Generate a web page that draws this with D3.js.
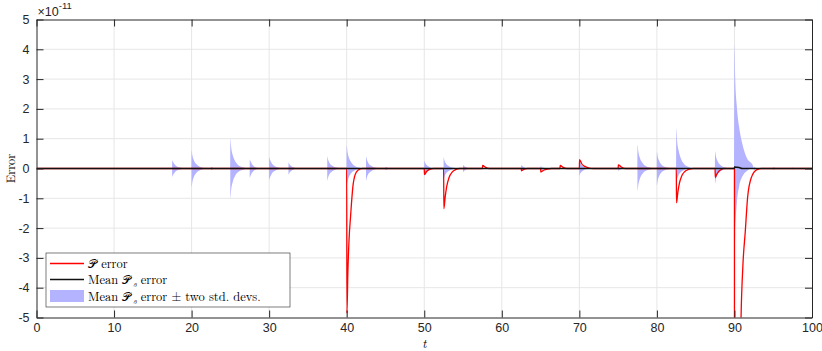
<!DOCTYPE html>
<html>
<head>
<meta charset="utf-8">
<script src="https://cdn.jsdelivr.net/npm/d3@7"></script>
<style>
  body { margin: 0; background: #fff; }
  svg { display: block; }
  .tick text { font-family: "Liberation Sans", Arial, sans-serif; font-size: 12.5px; fill: #262626; }
  .serif { font-family: "Latin Modern Roman", "DejaVu Serif", "Liberation Serif", serif; fill: #000; }
</style>
</head>
<body>
<div id="chart"></div>
<script>
  // values are in units of 1e-11
  let xTicks = [0, 10, 20, 30, 40, 50, 60, 70, 80, 90, 100]
  let yTicks = [-5, -4, -3, -2, -1, 0, 1, 2, 3, 4, 5]

  // P error (red)
  let pErrT = [0,
    40, 40.03, 40.15, 40.3, 40.5, 40.8, 41.1, 41.5, 42,
    50, 50.03, 50.3, 50.7, 51.2,
    52.5, 52.53, 52.7, 52.9, 53.2, 53.6, 54.1, 54.6,
    57.5, 57.53, 57.9, 58.4,
    62.5, 62.53, 62.9, 63.3,
    65, 65.03, 65.4, 65.9, 66.4,
    67.5, 67.53, 67.9, 68.4,
    70, 70.03, 70.3, 70.7, 71.2, 71.8,
    75, 75.03, 75.4, 75.9,
    82.5, 82.53, 82.7, 82.9, 83.2, 83.6, 84.1, 84.7,
    87.5, 87.53, 87.7, 87.9, 88.2, 88.6,
    90, 90.02, 90.5, 90.85, 91.1, 91.4, 91.7, 92.2, 92.9, 93.5,
    100]
  let pErrV = [0,
    0, -4.85, -3.5, -2.4, -1.6, -0.6, -0.2, -0.05, 0,
    0, -0.2, -0.1, -0.03, 0,
    0, -1.35, -0.95, -0.6, -0.3, -0.12, -0.03, 0,
    0, 0.1, 0.04, 0,
    0, -0.07, -0.02, 0,
    0, -0.12, -0.06, -0.02, 0,
    0, 0.1, 0.04, 0,
    0, 0.3, 0.16, 0.07, 0.02, 0,
    0, 0.12, 0.05, 0,
    0, -1.15, -0.8, -0.5, -0.25, -0.1, -0.03, 0,
    0, -0.3, -0.2, -0.12, -0.05, 0,
    0, -30, -12, -5, -3.2, -2.1, -0.96, -0.29, -0.04, 0,
    0]

  // mean Ps error (black)
  let meanT = [0, 89.98, 90.02, 90.6, 91, 100]
  let meanV = [0, 0, 0.05, 0.03, 0, 0]

  // mean Ps error +/- two std devs (blue band), one row per burst
  let bandOnsets = [17.5, 20, 22.5, 25, 27.5, 30, 32.5, 37.5, 40, 42.5, 45, 50, 52.5, 55,
    62.5, 65, 70, 75, 77.5, 80, 82.5, 87.5, 90, 92.5, 95, 97.5]
  let bandDt = [0, 0.1, 0.3, 0.6, 1.0, 1.6, 2.4]
  let bandUpper = [
    [0.28, 0.22, 0.14, 0.07, 0.03, 0.01, 0],
    [0.6, 0.44, 0.27, 0.15, 0.07, 0.02, 0],
    [0.05, 0.04, 0.02, 0.01, 0, 0, 0],
    [1.0, 0.72, 0.45, 0.25, 0.12, 0.04, 0],
    [0.3, 0.24, 0.14, 0.06, 0.02, 0, 0],
    [0.38, 0.3, 0.19, 0.1, 0.04, 0.01, 0],
    [0.2, 0.15, 0.09, 0.04, 0.01, 0, 0],
    [0.4, 0.3, 0.18, 0.1, 0.04, 0.01, 0],
    [0.77, 0.56, 0.35, 0.2, 0.09, 0.03, 0],
    [0.4, 0.3, 0.18, 0.1, 0.04, 0.01, 0],
    [0.05, 0.04, 0.02, 0.01, 0, 0, 0],
    [0.27, 0.2, 0.12, 0.06, 0.02, 0, 0],
    [0.38, 0.28, 0.17, 0.09, 0.04, 0.01, 0],
    [0.12, 0.09, 0.05, 0.02, 0.01, 0, 0],
    [0.12, 0.09, 0.05, 0.02, 0.01, 0, 0],
    [0.08, 0.06, 0.03, 0.01, 0, 0, 0],
    [0.28, 0.2, 0.12, 0.06, 0.02, 0, 0],
    [0.08, 0.06, 0.03, 0.01, 0, 0, 0],
    [0.8, 0.58, 0.36, 0.2, 0.09, 0.03, 0],
    [0.55, 0.4, 0.25, 0.13, 0.06, 0.02, 0],
    [1.35, 0.95, 0.6, 0.33, 0.15, 0.05, 0],
    [0.58, 0.42, 0.26, 0.14, 0.06, 0.02, 0],
    [4.15, 3.0, 2.1, 1.4, 0.85, 0.35, 0.08],
    [0.05, 0.04, 0.02, 0.01, 0, 0, 0],
    [0.04, 0.03, 0.02, 0.01, 0, 0, 0],
    [0.03, 0.02, 0.01, 0, 0, 0, 0]
  ]
  let bandLower = [
    [-0.28, -0.22, -0.14, -0.07, -0.03, -0.01, 0],
    [-0.62, -0.45, -0.28, -0.15, -0.07, -0.02, 0],
    [-0.05, -0.04, -0.02, -0.01, 0, 0, 0],
    [-1.0, -0.72, -0.45, -0.25, -0.12, -0.04, 0],
    [-0.3, -0.24, -0.14, -0.06, -0.02, 0, 0],
    [-0.38, -0.3, -0.19, -0.1, -0.04, -0.01, 0],
    [-0.2, -0.15, -0.09, -0.04, -0.01, 0, 0],
    [-0.4, -0.3, -0.18, -0.1, -0.04, -0.01, 0],
    [-0.6, -0.45, -0.28, -0.15, -0.07, -0.02, 0],
    [-0.4, -0.3, -0.18, -0.1, -0.04, -0.01, 0],
    [-0.05, -0.04, -0.02, -0.01, 0, 0, 0],
    [-0.27, -0.2, -0.12, -0.06, -0.02, 0, 0],
    [-0.38, -0.28, -0.17, -0.09, -0.04, -0.01, 0],
    [-0.12, -0.09, -0.05, -0.02, -0.01, 0, 0],
    [-0.12, -0.09, -0.05, -0.02, -0.01, 0, 0],
    [-0.08, -0.06, -0.03, -0.01, 0, 0, 0],
    [-0.25, -0.18, -0.11, -0.05, -0.02, 0, 0],
    [-0.08, -0.06, -0.03, -0.01, 0, 0, 0],
    [-0.75, -0.55, -0.34, -0.19, -0.08, -0.03, 0],
    [-0.55, -0.4, -0.25, -0.13, -0.06, -0.02, 0],
    [-0.45, -0.35, -0.22, -0.12, -0.05, -0.01, 0],
    [-0.5, -0.36, -0.22, -0.12, -0.05, -0.01, 0],
    [-3.4, -2.2, -1.2, -0.6, -0.28, -0.08, 0],
    [-0.05, -0.04, -0.02, -0.01, 0, 0, 0],
    [-0.04, -0.03, -0.02, -0.01, 0, 0, 0],
    [-0.03, -0.02, -0.01, 0, 0, 0, 0]
  ]

  let width = 822, height = 351
  let margin = {left: 36.5, right: 10, top: 19.5, bottom: 33.5}

  let x = d3.scaleLinear().domain([0, 100]).range([margin.left, width - margin.right])
  let y = d3.scaleLinear().domain([-5, 5]).range([height - margin.bottom, margin.top])

  let svg = d3.select("#chart").append("svg")
    .attr("width", width)
    .attr("height", height)

  svg.append("defs").append("clipPath").attr("id", "plotclip")
    .append("rect")
    .attr("x", x(0)).attr("y", y(5))
    .attr("width", x(100) - x(0)).attr("height", y(-5) - y(5))

  // grid
  let grid = svg.append("g").attr("class", "grid")
  grid.selectAll(".gx").data(xTicks.slice(1, -1)).enter().append("line")
    .attr("x1", function(d){ return x(d) }).attr("x2", function(d){ return x(d) })
    .attr("y1", y(5)).attr("y2", y(-5))
    .attr("stroke", "#e6e6e6").attr("stroke-width", 1)
  grid.selectAll(".gy").data(yTicks.slice(1, -1)).enter().append("line")
    .attr("y1", function(d){ return y(d) }).attr("y2", function(d){ return y(d) })
    .attr("x1", x(0)).attr("x2", x(100))
    .attr("stroke", "#e6e6e6").attr("stroke-width", 1)

  // build band rows with zero baseline between bursts
  let band = []
  band.push({t: 0, hi: 0, lo: 0})
  bandOnsets.forEach(function(t0, i){
    band.push({t: t0 - 0.01, hi: 0, lo: 0})
    bandDt.forEach(function(dt, j){
      band.push({t: t0 + dt, hi: bandUpper[i][j], lo: bandLower[i][j]})
    })
  })
  band.push({t: 100, hi: 0, lo: 0})
  band.sort(function(a, b){ return a.t - b.t })

  let plot = svg.append("g").attr("clip-path", "url(#plotclip)")

  let area = d3.area()
    .x(function(d){ return x(d.t) })
    .y0(function(d){ return y(d.lo) })
    .y1(function(d){ return y(d.hi) })
    .curve(d3.curveMonotoneX)

  plot.append("path")
    .datum(band)
    .attr("d", area)
    .attr("fill", "#b3b3ff")
    .attr("stroke", "none")

  let line = d3.line()
    .x(function(d){ return x(d[0]) })
    .y(function(d){ return y(d[1]) })
    .curve(d3.curveMonotoneX)

  plot.append("path")
    .datum(pErrT.map(function(t, i){ return [t, pErrV[i]] }))
    .attr("d", line)
    .attr("fill", "none")
    .attr("stroke", "#ff0000")
    .attr("stroke-width", 1.3)

  plot.append("path")
    .datum(meanT.map(function(t, i){ return [t, meanV[i]] }))
    .attr("d", line)
    .attr("fill", "none")
    .attr("stroke", "#111")
    .attr("stroke-width", 1.5)

  // axes, MATLAB style box with inward ticks on all sides
  let tickLen = 7
  let axisColor = "#262626"

  let xAxis = svg.append("g")
    .attr("transform", "translate(0," + y(-5) + ")")
    .call(d3.axisBottom(x).tickValues(xTicks).tickSizeInner(-tickLen).tickSizeOuter(0).tickPadding(6))
  let xAxisTop = svg.append("g")
    .attr("transform", "translate(0," + y(5) + ")")
    .call(d3.axisTop(x).tickValues(xTicks).tickSizeInner(-tickLen).tickSizeOuter(0).tickFormat(""))
  let yAxis = svg.append("g")
    .attr("transform", "translate(" + x(0) + ",0)")
    .call(d3.axisLeft(y).tickValues(yTicks).tickSizeInner(-tickLen).tickSizeOuter(0).tickPadding(7)
      .tickFormat(function(d){ return d < 0 ? "-" + Math.abs(d) : d }))
  let yAxisRight = svg.append("g")
    .attr("transform", "translate(" + x(100) + ",0)")
    .call(d3.axisRight(y).tickValues(yTicks).tickSizeInner(-tickLen).tickSizeOuter(0).tickFormat(""))

  ;[xAxis, xAxisTop, yAxis, yAxisRight].forEach(function(ax){
    ax.select(".domain").attr("stroke", axisColor)
    ax.selectAll(".tick line").attr("stroke", axisColor)
  })

  // exponent label
  let expo = svg.append("text")
    .attr("x", x(0) + 1)
    .attr("y", 16)
    .style("font-family", "Liberation Sans, Arial, sans-serif")
    .style("font-size", "12.5px")
    .style("fill", axisColor)
  expo.append("tspan").text("\u00d710")
  expo.append("tspan").attr("dy", -7).style("font-size", "9.5px").text("-11")

  // axis titles
  svg.append("text")
    .attr("class", "serif")
    .attr("transform", "translate(15," + y(0) + ") rotate(-90)")
    .attr("text-anchor", "middle")
    .style("font-size", "12.5px")
    .text("Error")

  svg.append("text")
    .attr("class", "serif")
    .attr("x", x(50))
    .attr("y", 348)
    .attr("text-anchor", "middle")
    .style("font-size", "12.5px")
    .style("font-style", "italic")
    .text("t")

  // legend
  let legend = svg.append("g").attr("transform", "translate(46,253)")
  legend.append("rect")
    .attr("width", 244).attr("height", 54)
    .attr("fill", "#fff")
    .attr("stroke", axisColor).attr("stroke-width", 0.6)

  let legendItems = [
    {kind: "line", color: "#ff0000", label: ["\ud835\udcab", " error"]},
    {kind: "line", color: "#111", label: ["Mean ", "\ud835\udcab", "s", " error"]},
    {kind: "patch", color: "#b3b3ff", label: ["Mean ", "\ud835\udcab", "s", " error \u00b1 two std. devs."]}
  ]
  let rowY = [10.5, 26.5, 43]

  legendItems.forEach(function(item, i){
    if (item.kind == "line"){
      legend.append("line")
        .attr("x1", 4).attr("x2", 38)
        .attr("y1", rowY[i]).attr("y2", rowY[i])
        .attr("stroke", item.color).attr("stroke-width", 1.3)
    }
    else {
      legend.append("rect")
        .attr("x", 4).attr("y", rowY[i] - 6)
        .attr("width", 34).attr("height", 12)
        .attr("fill", item.color)
    }
    let txt = legend.append("text")
      .attr("class", "serif")
      .attr("x", 42)
      .attr("y", rowY[i] + 4.5)
      .style("font-size", "12.5px")
    item.label.forEach(function(part, k){
      let span = txt.append("tspan").text(part)
      if (part == "\ud835\udcab"){
        span.style("font-size", "11.5px")
      }
      if (part == "s"){
        span.attr("dx", 1.5).attr("dy", 3).style("font-size", "9px").style("font-style", "italic")
      }
      else if (k > 0 && item.label[k - 1] == "s"){
        span.attr("dy", -3)
      }
    })
  })
</script>
</body>
</html>
